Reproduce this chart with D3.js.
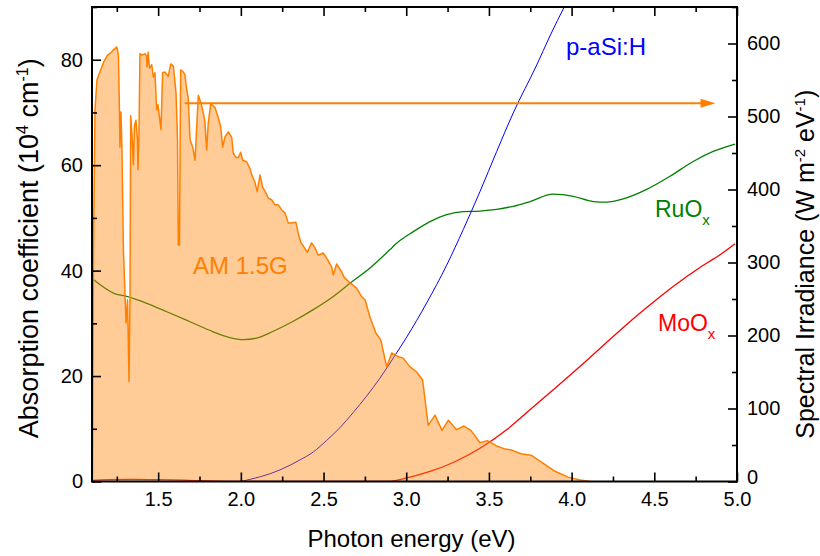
<!DOCTYPE html>
<html>
<head>
<meta charset="utf-8">
<script src="https://cdn.jsdelivr.net/npm/d3@7"></script>
<style>
  html, body { margin: 0; padding: 0; background: #fff; }
  svg { display: block; font-family: "Liberation Sans", Arial, sans-serif; }
</style>
</head>
<body>
<svg id="chart" width="820" height="556"></svg>
<script>
// AM 1.5G solar spectrum (photon energy in eV, spectral irradiance in W m^-2 eV^-1)
const amEnergy = [
  1.103, 1.109, 1.118, 1.130, 1.148, 1.173, 1.194, 1.218, 1.227, 1.239,
  1.248, 1.254, 1.260, 1.266, 1.269, 1.275, 1.281, 1.290, 1.306, 1.315,
  1.324, 1.330, 1.334, 1.342, 1.350, 1.357, 1.366, 1.375, 1.378, 1.384,
  1.390, 1.402, 1.420, 1.430, 1.433, 1.439, 1.448, 1.461, 1.471, 1.481,
  1.491, 1.499, 1.517, 1.527, 1.541, 1.561, 1.576, 1.592, 1.608, 1.617,
  1.622, 1.629, 1.636, 1.652, 1.662, 1.673, 1.682, 1.693, 1.709, 1.723,
  1.733, 1.743, 1.757, 1.773, 1.783, 1.793, 1.803, 1.818, 1.844, 1.864,
  1.878, 1.890, 1.904, 1.924, 1.945, 1.954, 1.971, 1.985, 1.999, 2.011,
  2.035, 2.055, 2.066, 2.085, 2.099, 2.116, 2.132, 2.152, 2.166, 2.186,
  2.206, 2.226, 2.247, 2.267, 2.287, 2.307, 2.333, 2.347, 2.362, 2.382,
  2.402, 2.428, 2.448, 2.468, 2.498, 2.519, 2.549, 2.559, 2.579, 2.610,
  2.624, 2.660, 2.700, 2.731, 2.751, 2.781, 2.817, 2.846, 2.882, 2.912,
  2.952, 2.982, 3.023, 3.063, 3.099, 3.133, 3.174, 3.216, 3.255, 3.304,
  3.349, 3.391, 3.446, 3.491, 3.543, 3.591, 3.638, 3.694, 3.755, 3.815,
  3.900, 3.979, 4.052, 4.112
];
const amIrradiance = [
  5, 317, 509, 550, 561, 576, 584, 588, 591, 593,
  595, 592, 583, 509, 458, 506, 457, 317, 217, 249,
  137, 257, 501, 475, 434, 488, 495, 468, 427, 475,
  586, 584, 586, 583, 568, 588, 566, 571, 554, 560,
  509, 516, 482, 560, 561, 555, 572, 569, 532, 468,
  324, 324, 564, 561, 557, 536, 525, 468, 458, 440,
  486, 529, 520, 505, 492, 454, 491, 518, 512, 498,
  486, 458, 472, 479, 471, 450, 444, 444, 451, 440,
  438, 429, 420, 410, 397, 420, 403, 395, 388, 386,
  379, 379, 372, 368, 354, 354, 355, 340, 328, 321,
  314, 327, 320, 310, 313, 306, 294, 283, 298, 287,
  280, 272, 265, 253, 249, 225, 203, 194, 157, 176,
  171, 169, 157, 150, 139, 77, 91, 70, 84, 71,
  76, 70, 53, 56, 49, 45, 43, 38, 36, 27,
  14, 6, 2, 0
];

// Absorption coefficients (10^4 cm^-1)
const ruoxEnergy = [1.108, 1.239, 1.310, 1.431, 1.552, 1.693, 1.833, 1.934, 2.015, 2.096,
  2.196, 2.317, 2.438, 2.559, 2.660, 2.781, 2.902, 2.942, 3.043, 3.144,
  3.244, 3.345, 3.446, 3.547, 3.647, 3.748, 3.889, 4.010, 4.131, 4.212,
  4.312, 4.454, 4.595, 4.735, 4.856, 4.988];
const ruoxAlpha = [38.3, 35.6, 35.1, 33.8, 32.2, 30.3, 28.4, 27.3, 26.9, 27.2,
  28.5, 30.4, 32.6, 35.1, 37.6, 40.5, 44.0, 45.2, 47.4, 49.3,
  50.6, 51.2, 51.3, 51.6, 52.2, 53.1, 54.5, 54.1, 53.1, 53.0,
  53.6, 55.4, 57.9, 60.7, 62.6, 64.0];

const asiEnergy = [2.000, 2.237, 2.358, 2.438, 2.519, 2.599, 2.680, 2.841, 2.942, 3.003,
  3.124, 3.244, 3.345, 3.446, 3.547, 3.647, 3.789, 3.869, 3.960];
const asiAlpha = [0.0, 2.2, 4.1, 5.6, 7.8, 10.2, 13.1, 19.6, 24.4, 27.4,
  33.9, 41.0, 47.8, 55.0, 62.6, 69.9, 79.0, 84.5, 90.3];

const mooxEnergy = [1.100, 1.200, 1.350, 1.500, 1.650, 1.800, 2.000, 2.500, 2.880, 2.992,
  3.144, 3.284, 3.446, 3.607, 3.748, 3.889, 4.050, 4.191, 4.333, 4.454,
  4.614, 4.776, 4.897, 4.988];
const mooxAlpha = [0.2, 0.35, 0.4, 0.35, 0.25, 0.1, 0.0, 0.0, 0.0, 0.6,
  1.9, 3.6, 6.3, 9.8, 13.6, 17.4, 21.8, 25.8, 29.8, 33.0,
  37.0, 40.6, 43.0, 45.1];

// Axis ticks
const xMajorTicks = [1.5, 2.0, 2.5, 3.0, 3.5, 4.0, 4.5, 5.0];
const xMinorTicks = [1.25, 1.75, 2.25, 2.75, 3.25, 3.75, 4.25, 4.75];
const leftMajorTicks = [0, 20, 40, 60, 80];
const leftMinorTicks = [10, 30, 50, 70, 90];
const rightMajorTicks = [0, 100, 200, 300, 400, 500, 600];
const rightMinorTicks = [50, 150, 250, 350, 450, 550, 650];

// Arrow pointing the spectrum to its axis (energy range, irradiance level)
const arrowEnergy = [1.66, 4.87];
const arrowLevel = 518;

const svg = d3.select("#chart");
const L = 92, R = 737, T = 7, B = 481.5;

const x = d3.scaleLinear().domain([1.1, 5.0]).range([L, R]);
const yL = d3.scaleLinear().domain([0, 90]).range([B, T]);
const yR = d3.scaleLinear().domain([0, 650]).range([B, T]);

svg.append("defs").append("clipPath").attr("id", "plot")
  .append("rect").attr("x", L).attr("y", T).attr("width", R - L).attr("height", B - T);

const plot = svg.append("g").attr("clip-path", "url(#plot)");

const alphaLine = d3.line().curve(d3.curveMonotoneX).x(d => x(d[0])).y(d => yL(d[1]));
const curves = [
  { e: ruoxEnergy, a: ruoxAlpha, color: "#008000", w: 1.3 },
  { e: asiEnergy, a: asiAlpha, color: "#0000ff", w: 1.0 },
  { e: mooxEnergy, a: mooxAlpha, color: "#ff0000", w: 1.3 }
];
curves.forEach(c => {
  plot.append("path")
    .datum(c.e.map((v, i) => [v, c.a[i]]))
    .attr("d", alphaLine)
    .attr("fill", "none")
    .attr("stroke", c.color)
    .attr("stroke-width", c.w);
});

// Solar spectrum: translucent area drawn over the absorption curves
const amData = amEnergy.map((v, i) => [v, amIrradiance[i]]);
plot.append("path")
  .datum(amData)
  .attr("d", d3.area().x(d => x(d[0])).y0(yR(0)).y1(d => yR(d[1])))
  .attr("fill", "#ff8000")
  .attr("fill-opacity", 0.41);
plot.append("path")
  .datum(amData)
  .attr("d", d3.line().x(d => x(d[0])).y(d => yR(d[1])))
  .attr("fill", "none")
  .attr("stroke", "#ff8000")
  .attr("stroke-width", 1.5)
  .attr("stroke-linejoin", "round");

// Arrow
const ay = yR(arrowLevel);
const ax0 = x(arrowEnergy[0]), ax1 = x(arrowEnergy[1]);
svg.append("line")
  .attr("x1", ax0).attr("x2", ax1 - 12).attr("y1", ay).attr("y2", ay)
  .attr("stroke", "#ff8000").attr("stroke-width", 2);
svg.append("path")
  .attr("d", `M${ax1},${ay} L${ax1 - 15},${ay - 4.5} L${ax1 - 15},${ay + 4.5} Z`)
  .attr("fill", "#ff8000");

// Axes with inward ticks
const tickStyle = g => {
  g.select(".domain").remove();
  g.selectAll(".tick line").attr("stroke", "#000").attr("stroke-width", 1.6);
  g.selectAll(".tick text").attr("fill", "#000").attr("font-size", 20)
    .attr("font-family", "'Liberation Sans', Arial, sans-serif");
};
const fmtX = d3.format(".1f");

svg.append("g").attr("transform", `translate(0,${B})`)
  .call(d3.axisBottom(x).tickValues(xMajorTicks).tickSize(-9).tickPadding(10).tickFormat(fmtX))
  .call(tickStyle);
svg.append("g").attr("transform", `translate(0,${B})`)
  .call(d3.axisBottom(x).tickValues(xMinorTicks).tickSize(-5).tickFormat(""))
  .call(tickStyle);
svg.append("g").attr("transform", `translate(0,${T})`)
  .call(d3.axisTop(x).tickValues(xMajorTicks).tickSize(-9).tickFormat(""))
  .call(tickStyle);
svg.append("g").attr("transform", `translate(0,${T})`)
  .call(d3.axisTop(x).tickValues(xMinorTicks).tickSize(-5).tickFormat(""))
  .call(tickStyle);

svg.append("g").attr("transform", `translate(${L},0)`)
  .call(d3.axisLeft(yL).tickValues(leftMajorTicks).tickSize(-9).tickPadding(9).tickFormat(d3.format("d")))
  .call(tickStyle);
svg.append("g").attr("transform", `translate(${L},0)`)
  .call(d3.axisLeft(yL).tickValues(leftMinorTicks).tickSize(-5).tickFormat(""))
  .call(tickStyle);

const rightAxis = svg.append("g").attr("transform", `translate(${R},0)`)
  .call(d3.axisRight(yR).tickValues(rightMajorTicks).tickSize(-9).tickPadding(10).tickFormat(d3.format("d")))
  .call(tickStyle);
// lift the zero label slightly so it clears the bottom axis labels
rightAxis.selectAll(".tick").filter(d => d === 0).select("text").attr("dy", "0.1em");
svg.append("g").attr("transform", `translate(${R},0)`)
  .call(d3.axisRight(yR).tickValues(rightMinorTicks).tickSize(-5).tickFormat(""))
  .call(tickStyle);

// Frame
svg.append("rect")
  .attr("x", L).attr("y", T).attr("width", R - L).attr("height", B - T)
  .attr("fill", "none").attr("stroke", "#000").attr("stroke-width", 2);

// Axis titles
svg.append("text")
  .attr("x", (L + R) / 2 - 3).attr("y", 547)
  .attr("text-anchor", "middle").attr("font-size", 24).attr("fill", "#000")
  .text("Photon energy (eV)");

const leftTitle = svg.append("text")
  .attr("transform", `translate(38,${(T + B) / 2 + 4}) rotate(-90)`)
  .attr("text-anchor", "middle").attr("font-size", 27).attr("fill", "#000");
leftTitle.append("tspan").text("Absorption coefficient (10");
leftTitle.append("tspan").attr("dy", -10).attr("font-size", 16).text("4");
leftTitle.append("tspan").attr("dy", 10).text(" cm");
leftTitle.append("tspan").attr("dy", -10).attr("font-size", 16).text("-1");
leftTitle.append("tspan").attr("dy", 10).text(")");

const rightTitle = svg.append("text")
  .attr("transform", `translate(814,${(T + B) / 2 + 20}) rotate(-90)`)
  .attr("text-anchor", "middle").attr("font-size", 25).attr("fill", "#000");
rightTitle.append("tspan").text("Spectral Irradiance (W m");
rightTitle.append("tspan").attr("dy", -9).attr("font-size", 15).text("-2");
rightTitle.append("tspan").attr("dy", 9).text(" eV");
rightTitle.append("tspan").attr("dy", -9).attr("font-size", 15).text("-1");
rightTitle.append("tspan").attr("dy", 9).text(")");

// Series labels
svg.append("text").attr("x", 566).attr("y", 55).attr("font-size", 24)
  .attr("fill", "#0000ff").text("p-aSi:H");

const ru = svg.append("text").attr("x", 655).attr("y", 217).attr("font-size", 23).attr("fill", "#008000");
ru.append("tspan").text("RuO");
ru.append("tspan").attr("dy", 8).attr("font-size", 15).text("x");

const mo = svg.append("text").attr("x", 658).attr("y", 331).attr("font-size", 23).attr("fill", "#ff0000");
mo.append("tspan").text("MoO");
mo.append("tspan").attr("dy", 8).attr("font-size", 15).text("x");

svg.append("text").attr("x", 193).attr("y", 274).attr("font-size", 24)
  .attr("fill", "#ff8000").text("AM 1.5G");
</script>
</body>
</html>
